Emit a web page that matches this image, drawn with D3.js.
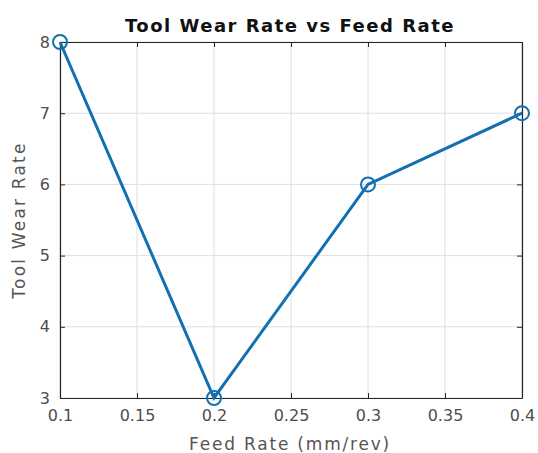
<!DOCTYPE html>
<html><head><meta charset="utf-8">
<script src="https://cdn.jsdelivr.net/npm/d3@7"></script>
<style>body{margin:0;background:#fff}svg{display:block}</style>
</head><body><svg id="c" width="538" height="453"></svg>
<script>
const feedRate = [0.1, 0.2, 0.3, 0.4];
const wearRate = [8, 3, 6, 7];
const xTicks = [0.1, 0.15, 0.2, 0.25, 0.3, 0.35, 0.4];
const yTicks = [3, 4, 5, 6, 7, 8];
const xTickLabels = ["0.1","0.15","0.2","0.25","0.3","0.35","0.4"];
const yTickLabels = ["3","4","5","6","7","8"];
const titleText = "Tool Wear Rate vs Feed Rate";
const xLabel = "Feed Rate (mm/rev)";
const yLabel = "Tool Wear Rate";

const svg = d3.select("#c");
const L = 60, R = 522, T = 42, B = 398;
const x = d3.scaleLinear().domain([0.1, 0.4]).range([L, R]);
const y = d3.scaleLinear().domain([3, 8]).range([B, T]);
const font = "DejaVu Sans, sans-serif";
const axCol = "#262626";
const lineCol = "#1270b0";

// grid
const g = svg.append("g");
g.selectAll(".gx").data(xTicks).join("line")
  .attr("x1", d => x(d)).attr("x2", d => x(d)).attr("y1", T).attr("y2", B)
  .attr("stroke", "#dedede").attr("stroke-width", 1);
g.selectAll(".gy").data(yTicks).join("line")
  .attr("y1", d => y(d)).attr("y2", d => y(d)).attr("x1", L).attr("x2", R)
  .attr("stroke", "#dedede").attr("stroke-width", 1);

// axes with inward ticks
const fmtX = (d, i) => xTickLabels[i];
const fmtY = (d, i) => yTickLabels[i];
const ax = svg.append("g").attr("transform", `translate(0,${B})`)
  .call(d3.axisBottom(x).tickValues(xTicks).tickFormat(fmtX).tickSizeInner(-5).tickSizeOuter(0).tickPadding(12));
const axT = svg.append("g").attr("transform", `translate(0,${T})`)
  .call(d3.axisTop(x).tickValues(xTicks).tickFormat("").tickSizeInner(-5).tickSizeOuter(0));
const ay = svg.append("g").attr("transform", `translate(${L},0)`)
  .call(d3.axisLeft(y).tickValues(yTicks).tickFormat(fmtY).tickSizeInner(-5).tickSizeOuter(0).tickPadding(10));
const ayR = svg.append("g").attr("transform", `translate(${R},0)`)
  .call(d3.axisRight(y).tickValues(yTicks).tickFormat("").tickSizeInner(-5).tickSizeOuter(0));
[ax, axT, ay, ayR].forEach(a => {
  a.selectAll("path").attr("stroke", axCol).attr("stroke-width", 1.2);
  a.selectAll("line").attr("stroke", axCol);
  a.selectAll("text").attr("fill", "#4d4d4d").style("font-family", font).style("font-size", "16px");
});

// line
svg.append("path").datum(feedRate.map((f, i) => [f, wearRate[i]]))
  .attr("fill", "none").attr("stroke", lineCol).attr("stroke-width", 3)
  .attr("d", d3.line().x(d => x(d[0])).y(d => y(d[1])));
svg.selectAll(".pt").data(feedRate).join("circle")
  .attr("cx", d => x(d)).attr("cy", (d, i) => y(wearRate[i])).attr("r", 7)
  .attr("fill", "none").attr("stroke", lineCol).attr("stroke-width", 2);

// texts
svg.append("text").attr("x", 290).attr("y", 32).attr("text-anchor", "middle")
  .style("font-family", font).style("font-size", "18px").style("font-weight", "bold")
  .style("letter-spacing", "1.5px").attr("fill", "#111").text(titleText);
svg.append("text").attr("x", 290).attr("y", 450).attr("text-anchor", "middle")
  .style("font-family", font).style("font-size", "17px").style("letter-spacing", "1.8px")
  .attr("fill", "#555").text(xLabel);
svg.append("text").attr("transform", `translate(25,220) rotate(-90)`).attr("text-anchor", "middle")
  .style("font-family", font).style("font-size", "17px").style("letter-spacing", "2.2px")
  .attr("fill", "#555").text(yLabel);
</script></body></html>
